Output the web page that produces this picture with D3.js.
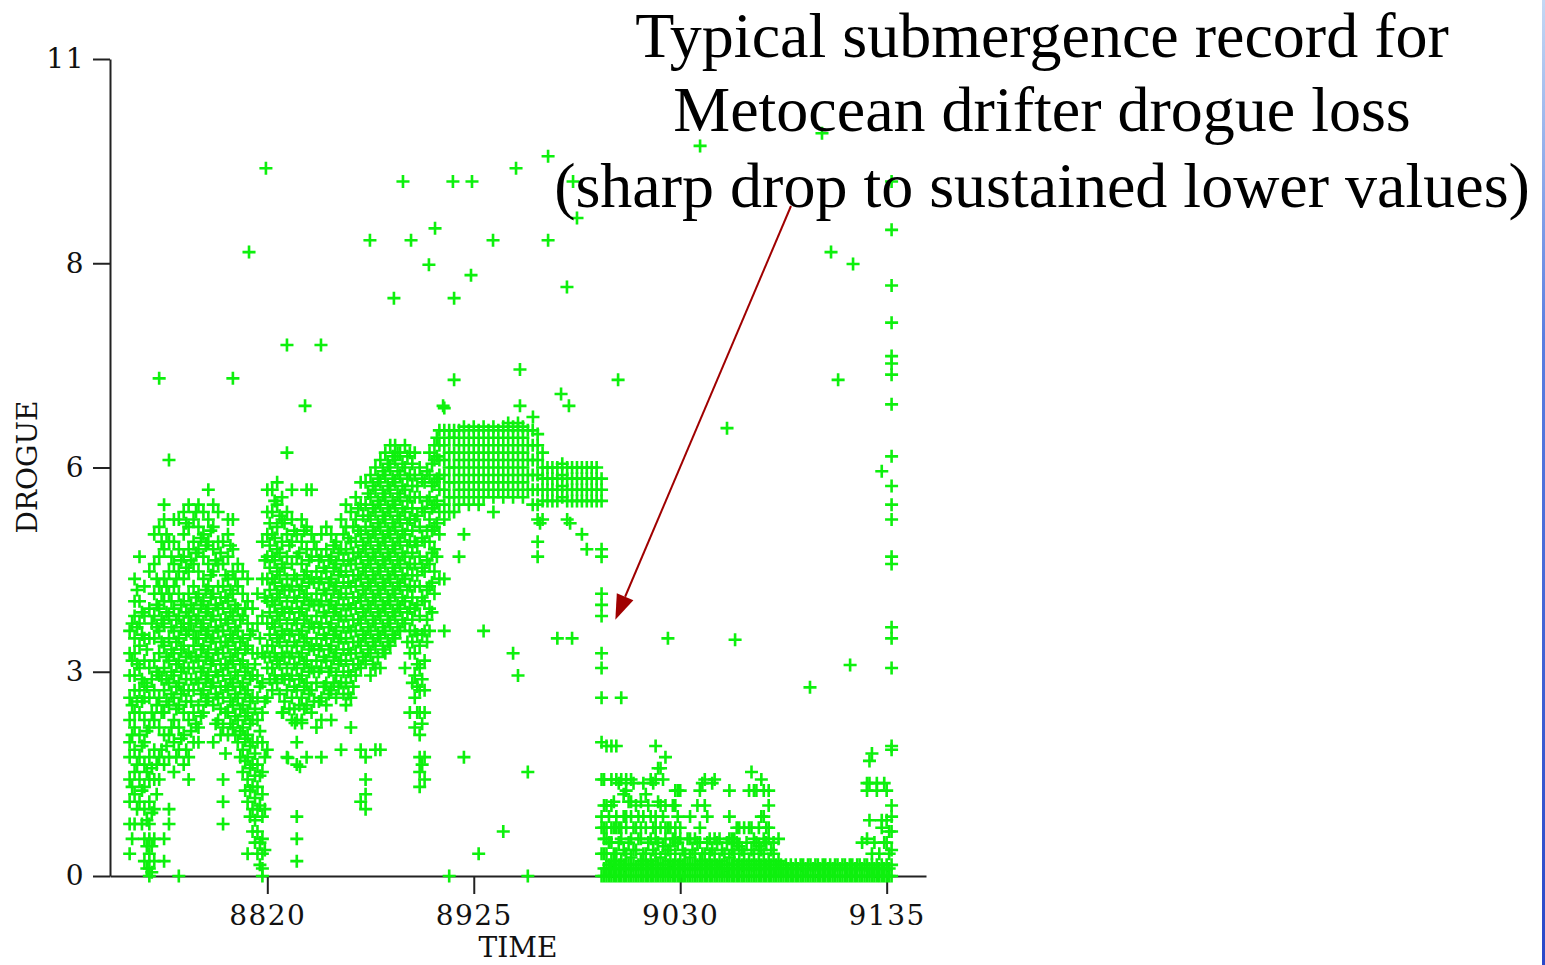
<!DOCTYPE html>
<html><head><meta charset="utf-8">
<script src="https://cdn.jsdelivr.net/npm/d3@7"></script>
<style>html,body{margin:0;padding:0;background:#fff;overflow:hidden}</style>
</head><body>
<svg id="chart" width="1545" height="965"></svg>
<script>
// ---------------- DATA (TIME, DROGUE) ----------------
const titleLines = ["Typical submergence record for", "Metocean drifter drogue loss", "(sharp drop to sustained lower values)"];
const xLabel = "TIME";
const yLabel = "DROGUE";
const xTicks = [8820, 8925, 9030, 9135];
const yTicks = [0, 2.75, 5.5, 8.25, 11];
const yTickLabels = ["0", "3", "6", "8", "11"];

// early oscillating section: [time, values at that time]
const earlyColumns = [
[8750,[0.3,0.7,1.0,1.3,1.6,1.8,2.1,2.4,2.7,3.0,3.3]],
[8751.25,[0.5,1.2,1.9,2.3,2.9,3.4]],
[8752.5,[0.7,1.1,1.4,1.7,2.0,2.2,2.5,2.7,3.0,3.2,3.5,3.7,4.0]],
[8753.75,[0.9,1.5,2.35,2.85,3.35,3.85]],
[8755,[1.0,1.3,1.6,1.9,2.2,2.5,2.8,3.1,3.4,3.7,4.3]],
[8756.25,[0.7,1.15,1.75,2.35,2.65,3.25,3.55]],
[8757.5,[0.2,0.5,0.9,1.2,1.5,1.8,2.1,2.4,2.6,2.9,3.2,3.5,3.9]],
[8758.75,[0.1,0.4,0.75,1.4,1.95,2.55,3.05]],
[8760,[0.0,0.1,0.3,0.5,0.7,1.0,1.3,1.6,2.0,2.4,2.8,3.2,3.6,4.1]],
[8761.25,[0.05,0.4,0.85,1.45,2.2,2.65,3.4]],
[8762.5,[0.2,0.5,0.9,1.3,1.7,2.1,2.5,2.9,3.2,3.5,3.8,4.2,4.6]],
[8763.75,[1.1,1.5,2.3,2.75,3.35,3.65,4.0]],
[8765,[1.3,1.6,2.0,2.4,2.7,3.0,3.3,3.6,3.9,4.3,4.7,6.7]],
[8766.25,[1.7,2.2,2.65,3.15,3.45,3.8,4.5]],
[8767.5,[0.2,0.5,1.5,1.9,2.2,2.5,2.8,3.1,3.4,3.7,4.0,4.4,4.8,5.0]],
[8768.75,[1.75,2.35,2.65,2.95,3.55,3.9,4.6]],
[8770,[0.7,0.9,1.6,1.9,2.3,2.6,2.9,3.2,3.5,3.8,4.1,4.5,5.6]],
[8771.25,[2.0,2.45,2.75,3.05,3.35,3.7,4.3]],
[8772.5,[1.4,1.8,2.1,2.4,2.7,3.0,3.3,3.6,3.9,4.2,4.5,4.8]],
[8773.75,[1.6,2.25,2.55,2.85,3.15,3.45,4.0]],
[8775,[0.0,1.7,2.0,2.3,2.6,2.9,3.2,3.5,3.8,4.1,4.4,4.8]],
[8776.25,[1.85,2.45,2.75,3.05,3.35,3.65,4.25]],
[8777.5,[1.5,1.9,2.2,2.5,2.8,3.1,3.4,3.7,4.0,4.3,4.6,4.9]],
[8778.75,[1.7,2.35,2.65,2.95,3.25,3.55,4.15,4.75]],
[8780,[1.3,1.6,2.1,2.5,2.8,3.0,3.3,3.5,3.8,4.1,4.4,4.7,5.0]],
[8781.25,[1.95,2.35,2.65,2.95,3.4,3.65,4.25]],
[8782.5,[1.8,2.2,2.5,2.8,3.1,3.3,3.6,3.9,4.2,4.5,4.8]],
[8783.75,[2.05,2.65,2.95,3.2,3.45,3.75,4.35,4.9]],
[8785,[1.8,2.0,2.3,2.6,2.9,3.2,3.5,3.8,4.1,4.4,4.7,5.0]],
[8786.25,[2.15,2.45,2.75,3.05,3.35,3.65,4.55]],
[8787.5,[2.2,2.5,2.8,3.1,3.4,3.7,4.0,4.3,4.6,4.9]],
[8788.75,[2.35,2.65,2.95,3.25,3.55,3.85,4.45]],
[8790,[2.4,2.7,3.0,3.3,3.6,3.9,4.2,4.5,4.8,5.2]],
[8791.25,[2.55,2.85,3.15,3.45,3.75,4.05,4.65]],
[8792.5,[1.8,2.3,2.6,2.9,3.2,3.5,3.8,4.1,4.4,4.7,5.0]],
[8793.75,[2.05,2.45,2.75,3.05,3.35,3.65,4.25]],
[8795,[2.1,2.4,2.7,3.0,3.3,3.6,3.9,4.2,4.5,4.9]],
[8796.25,[1.9,2.25,2.55,2.85,3.15,3.45,3.75,4.35]],
[8797.5,[0.7,1.0,1.3,2.0,2.4,2.7,3.0,3.3,3.6,3.9,4.2,4.5]],
[8798.75,[1.65,2.2,2.55,2.85,3.15,3.45,3.75,4.05]],
[8800,[1.9,2.2,2.5,2.8,3.1,3.4,3.7,4.0,4.3,4.6,4.8]],
[8801.25,[2.05,2.35,2.65,2.95,3.25,3.55,3.85,4.45]],
[8802.5,[2.0,2.3,2.6,2.9,3.2,3.5,3.8,4.1,4.4,4.8,6.7]],
[8803.75,[1.9,2.15,2.45,2.75,3.05,3.35,3.65,4.0]],
[8805,[1.8,2.1,2.4,2.7,3.0,3.3,3.6,3.9,4.2]],
[8806.25,[1.6,1.95,2.25,2.55,2.85,3.15,3.45]],
[8807.5,[1.4,1.7,2.0,2.3,2.6,2.9,3.2,3.5,3.8,4.1]],
[8808.75,[1.15,1.55,1.85,2.15,2.45,2.75,3.05,3.6]],
[8810,[0.3,1.0,1.3,1.6,1.9,2.2,2.5,2.8,3.1,3.4,3.7,4.0]],
[8811.25,[0.8,1.15,1.45,1.75,2.05,2.35,2.65,3.25]],
[8812.5,[0.6,0.9,1.2,1.5,1.8,2.1,2.4,2.7,3.0,3.3,3.6]],
[8813.75,[0.45,0.75,1.05,1.35,1.65,2.25,2.85]],
[8815,[0.3,0.6,0.9,1.2,1.5,1.8,2.1,2.4,2.7,3.0,3.4,3.8]],
[8816.25,[0.15,0.45,0.95,1.35,1.95,2.55,3.2]],
[8817.5,[0.0,0.1,0.3,0.5,0.8,1.1,1.4,1.8,2.2,2.6,3.0,3.5,4.0,4.5]],
[8818.75,[0.35,0.9,1.6,2.35,2.95,3.75,4.25]]
];

// rising section
const midColumns = [
[8820,[1.7,2.4,2.8,3.1,3.4,3.7,4.0,4.3,4.6,4.9,5.2]],
[8821.25,[2.65,2.95,3.25,3.55,3.85,4.15,4.45,4.75]],
[8822.5,[2.5,2.8,3.1,3.4,3.7,4.0,4.3,4.6,4.9,5.2]],
[8823.75,[2.7,3.0,3.35,3.65,3.95,4.25,4.55,5.05]],
[8825,[2.6,2.9,3.2,3.5,3.8,4.1,4.4,4.7,5.0,5.3]],
[8826.25,[2.45,2.85,3.15,3.45,3.75,4.05,4.35,4.85]],
[8827.5,[2.2,2.7,3.0,3.3,3.6,3.9,4.2,4.5,4.8,5.1]],
[8828.75,[2.35,2.65,2.95,3.25,3.55,3.85,4.15,4.75]],
[8830,[1.6,2.5,2.8,3.1,3.4,3.7,4.0,4.3,4.6,4.9,5.7]],
[8831.25,[2.25,2.65,2.95,3.25,3.55,3.85,4.45]],
[8832.5,[2.1,2.4,2.7,3.0,3.3,3.6,3.9,4.2,4.5,4.8,5.2]],
[8833.75,[2.25,2.55,2.85,3.15,3.45,3.75,4.05,4.65]],
[8835,[0.2,0.5,0.8,1.5,1.8,2.1,2.5,2.8,3.1,3.4,3.7,4.0,4.3,4.6]],
[8836.25,[2.3,2.65,2.95,3.25,3.55,3.85,4.35]],
[8837.5,[2.1,2.4,2.7,3.0,3.3,3.6,3.9,4.2,4.5,4.8]],
[8838.75,[2.25,2.55,2.85,3.15,3.45,3.75,4.05,4.65]],
[8840,[1.6,2.3,2.6,2.9,3.2,3.5,3.8,4.1,4.4,4.7,5.2]],
[8841.25,[2.45,2.75,3.05,3.35,3.65,3.95,4.25]],
[8842.5,[2.2,2.5,2.8,3.1,3.4,3.7,4.0,4.3,4.6,5.2]],
[8843.75,[2.35,2.75,3.05,3.35,3.65,3.95,4.5]],
[8845,[2.0,2.6,2.9,3.2,3.5,3.8,4.1,4.4]],
[8846.25,[2.35,2.75,3.05,3.35,3.65,3.95,4.25]],
[8847.5,[1.6,2.1,2.4,2.8,3.1,3.4,3.7,4.0,4.3,4.6]],
[8848.75,[2.55,2.95,3.25,3.55,3.85,4.15]],
[8850,[2.3,2.6,2.9,3.2,3.5,3.8,4.1,4.4,4.7]],
[8851.25,[2.45,2.75,3.05,3.35,3.65,3.95,4.25]],
[8852.5,[2.1,2.5,2.8,3.1,3.4,3.7,4.0,4.3,4.6]],
[8853.75,[2.6,2.95,3.25,3.55,3.85,4.15,4.45]],
[8855,[2.4,2.7,3.0,3.3,3.6,3.9,4.2,4.5]],
[8856.25,[2.55,2.85,3.15,3.45,3.75,4.05,4.35]],
[8857.5,[1.7,2.6,2.9,3.2,3.5,3.8,4.1,4.4,4.8]],
[8858.75,[2.45,2.75,3.05,3.35,3.65,3.95,4.25,4.6]],
[8860,[2.3,2.6,2.9,3.2,3.5,3.8,4.1,4.4,4.7,5.0]],
[8861.25,[2.45,2.75,3.05,3.35,3.65,3.95,4.25,4.55]],
[8862.5,[2.0,2.4,2.7,3.0,3.3,3.6,3.9,4.2,4.5,4.9]],
[8863.75,[2.55,2.85,3.15,3.45,3.75,4.05,4.35,4.7]],
[8865,[2.7,3.0,3.3,3.6,3.9,4.2,4.5,4.8,5.1]],
[8866.25,[2.85,3.15,3.45,3.75,4.05,4.35,4.65,4.95]],
[8867.5,[1.0,1.7,2.8,3.1,3.4,3.7,4.0,4.3,4.6,5.0,5.3]],
[8868.75,[2.95,3.25,3.55,3.85,4.15,4.45,4.85]],
[8870,[0.9,1.1,1.3,1.6,2.9,3.2,3.5,3.8,4.1,4.4,4.7,5.0,5.3]],
[8871.25,[3.05,3.35,3.65,3.95,4.25,4.55,4.85,5.15]],
[8872.5,[2.7,3.0,3.3,3.6,3.9,4.2,4.5,4.8,5.1,5.4]],
[8873.75,[2.85,3.15,3.45,3.75,4.05,4.35,4.65,4.95,5.25]],
[8875,[1.7,2.8,3.1,3.4,3.7,4.0,4.3,4.6,4.9,5.2,5.5]],
[8876.25,[2.95,3.25,3.55,3.85,4.15,4.45,4.75,5.05,5.35]],
[8877.5,[1.7,2.8,3.2,3.5,3.8,4.1,4.4,4.7,5.0,5.3,5.6]],
[8878.75,[3.05,3.35,3.65,3.95,4.25,4.55,4.85,5.15,5.45]],
[8880,[3.0,3.3,3.6,3.9,4.2,4.5,4.8,5.1,5.4,5.7]],
[8881.25,[3.15,3.45,3.75,4.05,4.35,4.65,4.95,5.25,5.55]],
[8882.5,[3.1,3.4,3.7,4.0,4.3,4.6,4.9,5.2,5.5,5.8]],
[8883.75,[3.25,3.55,3.85,4.15,4.45,4.75,5.05,5.35,5.65]],
[8885,[3.2,3.5,3.8,4.1,4.4,4.7,5.0,5.3,5.6,5.8]],
[8886.25,[3.35,3.65,3.95,4.25,4.55,4.85,5.15,5.45,5.7]],
[8887.5,[3.3,3.6,3.9,4.2,4.5,4.8,5.1,5.4,5.7]],
[8888.75,[3.45,3.75,4.05,4.35,4.65,4.95,5.25,5.55]],
[8890,[2.8,3.4,3.7,4.0,4.3,4.6,4.9,5.2,5.5,5.8]],
[8891.25,[3.15,3.55,3.85,4.15,4.45,4.75,5.05,5.35,5.65]],
[8892.5,[2.2,3.0,3.3,3.6,3.9,4.2,4.5,4.8,5.1,5.4,5.7]],
[8893.75,[2.6,3.15,3.45,3.75,4.05,4.35,4.65,4.95,5.25,5.55]],
[8895,[2.0,2.4,2.7,3.0,3.3,3.6,3.9,4.2,4.5,4.8,5.1,5.4,5.7]],
[8896.25,[2.2,2.55,2.85,3.25,3.65,4.05,4.45,4.85,5.25]],
[8897.5,[1.2,1.4,1.6,1.9,2.2,2.5,2.8,3.1,3.5,3.9,4.3,4.7,5.1,5.5]],
[8898.75,[1.5,2.05,2.65,3.25,3.75,4.15,4.55,4.95,5.35]],
[8900,[1.3,1.6,2.2,2.5,2.9,3.3,3.7,4.1,4.5,4.9,5.3]],
[8901.25,[3.15,3.45,3.85,4.25,4.65,5.05,5.45]],
[8902.5,[3.3,3.6,3.9,4.2,4.5,4.8,5.1,5.4,5.7]],
[8903.75,[3.55,3.95,4.35,4.65,4.95,5.25,5.55]],
[8905,[3.8,4.1,4.4,4.7,5.0,5.3,5.6,5.8]],
[8906.25,[4.3,4.75,5.05,5.35,5.65,5.9]]
];

// plateau before the drop
const plateauColumns = [
[8907.5,[4.0,4.6,4.9,5.2,5.4,5.6,5.8,6.0]],
[8910,[3.3,4.0,4.8,5.0,5.2,5.4,5.6,5.8,6.0,6.3]],
[8912.5,[0.0,4.9,5.1,5.3,5.5,5.7,5.9,6.0]],
[8915,[4.9,5.1,5.3,5.5,5.7,5.9,6.0]],
[8917.5,[4.3,5.0,5.2,5.4,5.6,5.8,6.0]],
[8920,[1.6,4.6,5.1,5.3,5.5,5.7,5.9,6.05]],
[8922.5,[5.0,5.2,5.4,5.6,5.8,6.0]],
[8925,[5.1,5.3,5.5,5.7,5.9,6.05]],
[8927.5,[0.3,5.0,5.2,5.4,5.6,5.8,6.0]],
[8930,[3.3,5.1,5.3,5.5,5.7,5.9,6.05]],
[8932.5,[5.2,5.4,5.6,5.8,6.0]],
[8935,[4.9,5.1,5.3,5.5,5.7,5.9,6.05]],
[8937.5,[5.2,5.4,5.6,5.8,6.0]],
[8940,[0.6,5.1,5.3,5.5,5.7,5.9,6.05]],
[8942.5,[5.2,5.4,5.6,5.8,6.0,6.1]],
[8945,[3.0,5.1,5.3,5.5,5.7,5.9,6.05]],
[8947.5,[2.7,5.2,5.4,5.6,5.8,6.0,6.1]],
[8950,[5.1,5.3,5.5,5.7,5.9,6.05]],
[8952.5,[0.0,1.4,5.2,5.4,5.6,5.8,6.0]],
[8955,[5.0,5.2,5.4,5.6,5.8,6.0]],
[8957.5,[4.3,4.5,4.8,5.0,5.2,5.4,5.6,5.8,5.95]],
[8960,[4.8,5.05,5.2,5.35,5.5,5.7]],
[8962.5,[5.05,5.2,5.35,5.5]],
[8965,[5.05,5.2,5.35,5.5]],
[8967.5,[3.2,5.05,5.2,5.35,5.5]],
[8970,[5.1,5.25,5.4,5.55]],
[8972.5,[4.8,5.05,5.2,5.35,5.5]],
[8975,[3.2,5.05,5.2,5.35,5.5]],
[8977.5,[5.05,5.2,5.35,5.5]],
[8980,[4.6,5.05,5.2,5.35,5.5]],
[8982.5,[4.4,5.05,5.2,5.35,5.5]],
[8985,[5.05,5.2,5.35,5.5]],
[8987.5,[5.05,5.2,5.35,5.5]],
[8990,[0.0,0.3,0.65,0.8,1.3,1.8,2.4,2.8,3.0,3.5,3.65,3.8,4.3,4.4,5.05,5.2,5.35]]
];

// after drogue loss
const lossColumns = [
[8991.25,[0,0.1,0.3,0.5,0.65,0.95,1.3]],
[8992.5,[0,0.1,0.3,0.5,0.65,0.95,1.75]],
[8993.75,[0,0.15,0.45,0.8]],
[8995,[0,0.1,0.2,0.45,0.65,0.95,1.3,1.75]],
[8996.25,[0,0.15,0.3,0.65,1.0]],
[8997.5,[0,0.1,0.3,0.65,0.8,1.3,1.75]],
[8998.75,[0,0.15,0.45,0.65,1.25]],
[9000,[0,0.1,0.2,0.5,0.65,1.3,2.4]],
[9001.25,[0,0.15,0.35,0.8,1.1]],
[9002.5,[0,0.1,0.3,0.65,0.8,1.15,1.3]],
[9003.75,[0,0.15,0.45,1.0]],
[9005,[0,0.1,0.25,0.5,0.8,1.0,1.3]],
[9006.25,[0,0.15,0.35,0.65,1.25]],
[9007.5,[0,0.1,0.35,0.65,0.95]],
[9008.75,[0,0.15,0.5,0.8]],
[9010,[0,0.1,0.2,0.5,0.65,1.0]],
[9011.25,[0,0.15,0.3,0.8,1.25]],
[9012.5,[0,0.1,0.3,0.65,1.1]],
[9013.75,[0,0.15,0.45,0.95]],
[9015,[0,0.1,0.2,0.5,0.8,1.3]],
[9016.25,[0,0.15,0.35,0.65,1.25]],
[9017.5,[0,0.1,0.3,0.5,0.65,0.8,1.3,1.75]],
[9018.75,[0,0.15,0.45,1.0,1.45]],
[9020,[0,0.1,0.25,0.65,0.95,1.45]],
[9021.25,[0,0.15,0.4,0.8,1.3]],
[9022.5,[0,0.1,0.3,0.5,0.65,0.95,1.6]],
[9023.75,[0,0.15,0.35,0.65,3.2]],
[9025,[0,0.1,0.2,0.4,0.65]],
[9026.25,[0,0.15,0.5,0.95]],
[9027.5,[0,0.1,0.3,0.5,0.65,0.95,1.15]],
[9028.75,[0,0.15,0.45,0.8,1.15]],
[9030,[0,0.1,0.2,0.5,0.65,1.15]],
[9031.25,[0,0.15,0.35]],
[9032.5,[0,0.1,0.3]],
[9033.75,[0,0.15,0.5]],
[9035,[0,0.1,0.25,0.5,0.8]],
[9036.25,[0,0.15,0.35]],
[9037.5,[0,0.1,0.3,0.5]],
[9038.75,[0,0.15,0.45,0.95]],
[9040,[0,0.1,0.2,0.45,0.65,1.15]],
[9041.25,[0,0.15,0.3,1.25]],
[9042.5,[0,0.1,0.3,0.95,1.3]],
[9043.75,[0,0.15,0.45,0.8]],
[9045,[0,0.1,0.2,0.3,0.5]],
[9046.25,[0,0.15,0.35,1.25]],
[9047.5,[0,0.1,0.3,0.5,1.3]],
[9048.75,[0,0.15,0.45]],
[9050,[0,0.1,0.2,0.5]],
[9051.25,[0,0.15,0.35]],
[9052.5,[0,0.1,0.3]],
[9053.75,[0,0.15,0.45]],
[9055,[0,0.1,0.25,0.5,0.8,1.15]],
[9056.25,[0,0.15,0.35,0.5]],
[9057.5,[0,0.1,0.3,0.5]],
[9058.75,[0,0.15,0.45,0.65]],
[9060,[0,0.1,0.2,0.4,0.65]],
[9061.25,[0,0.15,0.35]],
[9062.5,[0,0.1,0.3,0.65]],
[9063.75,[0,0.15,0.45]],
[9065,[0,0.1,0.2,0.65,1.15]],
[9066.25,[0,0.15,0.35,0.65,1.4]],
[9067.5,[0,0.1,0.3,0.5,1.15]],
[9068.75,[0,0.15,0.45,1.15]],
[9070,[0,0.1,0.2,0.4,0.65]],
[9071.25,[0,0.15,0.35,0.8,1.3]],
[9072.5,[0,0.1,0.3,0.5,0.8,1.15]],
[9073.75,[0,0.15,0.45,0.65]],
[9075,[0,0.1,0.2,0.5,0.65,0.95,1.15]],
[9076.25,[0,0.15,0.35]],
[9077.5,[0,0.1,0.3,0.45]],
[9078.75,[0,0.15]],
[9080,[0,0.1,0.2,0.5]],
[9081.25,[0,0.15]],
[9082.5,[0,0.1]],
[9083.75,[0,0.15]],
[9085,[0,0.1]],
[9086.25,[0,0.15]],
[9087.5,[0,0.1]],
[9088.75,[0,0.15]],
[9090,[0,0.1]],
[9091.25,[0,0.15]],
[9092.5,[0,0.15]],
[9093.75,[0,0.1]],
[9095,[0,0.15]],
[9096.25,[0,0.15]],
[9097.5,[0,0.1]],
[9098.75,[0,0.15]],
[9100,[0,0.15]],
[9101.25,[0,0.1]],
[9102.5,[0,0.15]],
[9103.75,[0,0.15]],
[9105,[0,0.1]],
[9106.25,[0,0.15]],
[9107.5,[0,0.1]],
[9108.75,[0,0.15]],
[9110,[0,0.15]],
[9111.25,[0,0.1]],
[9112.5,[0,0.15]],
[9113.75,[0,0.15]],
[9115,[0,0.1]],
[9116.25,[0,0.15]],
[9117.5,[0,0.15]],
[9118.75,[0,0.1]],
[9120,[0,0.15]],
[9121.25,[0,0.15]],
[9122.5,[0,0.1,0.45]],
[9123.75,[0,0.15]],
[9125,[0,0.15,0.5,1.15,1.25]],
[9126.25,[0,0.1,0.75,1.25,1.55]],
[9127.5,[0,0.15,0.3,1.65]],
[9128.75,[0,0.1,0.45]],
[9130,[0,0.15,1.15,1.25]],
[9131.25,[0,0.1,0.3]],
[9132.5,[0,0.15,0.65,0.75,5.45]],
[9133.75,[0,0.1,0.45,1.25]],
[9135,[0,0.15,0.45,0.75,1.15]],
[9136.25,[0,0.1,0.3,0.6]],
[9137.5,[0,0.15,0.35,0.6,0.8,0.95,1.7,1.75,2.8,3.2,3.35,4.2,4.3,4.8,5.0,5.25,5.65,6.35,6.75,6.9,7.0,7.45,7.95,8.7,9.35]]
];

// isolated spikes: [time, value]
const outliers = [
[8819.3,9.53],[8810.7,8.40],[8830,7.15],[8847.3,7.15],[8839.2,6.33],[8872.2,8.56],[8884.4,7.78],
[8889,9.35],[8893.1,8.56],[8902.2,8.23],[8905.3,8.72],[8909.4,6.33],[8915,6.68],[8914.4,9.35],
[8924.1,9.35],[8915,7.78],[8923.6,8.09],[8934.8,8.56],[8946.5,9.53],[8948.5,6.82],[8948.5,6.33],
[8955.1,6.18],[8962.8,9.69],[8962.8,8.56],[8969.4,6.49],[8972.4,7.93],[8973.4,6.33],[8975.5,9.35],
[8977.5,8.86],[8998.4,6.68],[9040.1,9.83],[9053.8,6.03],[9102.1,10.0],[9106.7,8.40],[9117.9,8.24],
[9110.3,6.68],[9116.4,2.84],[9096,2.54],[9057.9,3.18],
[8828,2.2],[8834.1,2.06],[8837.6,2.06],[8830.5,1.59],[8836.6,1.47],[8958.7,4.75],[8974,4.75]
];

// ---------------- DRAWING ----------------
const svg = d3.select("#chart");
const x = d3.scaleLinear().domain([8740, 9155]).range([110, 926]);
const y = d3.scaleLinear().domain([0, 11]).range([876, 59]);

const defs = svg.append("defs");
const grad = defs.append("linearGradient").attr("id", "edge").attr("x1", 0).attr("y1", 0).attr("x2", 0).attr("y2", 1);
grad.append("stop").attr("offset", "0%").attr("stop-color", "#c4d8f4");
grad.append("stop").attr("offset", "35%").attr("stop-color", "#5a7ee0");
grad.append("stop").attr("offset", "100%").attr("stop-color", "#2a48c8");
defs.append("filter").attr("id", "soft").append("feGaussianBlur").attr("stdDeviation", 0.4);

svg.append("rect").attr("x", 1542).attr("y", 0).attr("width", 3).attr("height", 965).attr("fill", "url(#edge)");

const points = [];
[earlyColumns, midColumns, plateauColumns, lossColumns].forEach(cols =>
  cols.forEach(([t, vs]) => vs.forEach(v => points.push([t, v]))));
outliers.forEach(p => points.push(p));

// axes
const axisFont = "'DejaVu Serif', serif";
const gy = svg.append("g").attr("transform", "translate(110,0)")
  .call(d3.axisLeft(y).tickValues(yTicks).tickFormat((d, i) => yTickLabels[i]).tickSize(17).tickSizeOuter(0).tickPadding(8));
const gx = svg.append("g").attr("transform", "translate(0,876)")
  .call(d3.axisBottom(x).tickValues(xTicks).tickFormat(d3.format("d")).tickSize(18).tickSizeOuter(0).tickPadding(11));
[gx, gy].forEach(g => {
  g.select(".domain").attr("stroke", "#222").attr("stroke-width", 2);
  g.selectAll(".tick line").attr("stroke", "#222").attr("stroke-width", 2);
  g.selectAll(".tick text").attr("fill", "#111").style("font-family", axisFont).style("font-size", "28px").style("letter-spacing", "1.5px");
});

// markers
svg.append("g").attr("filter", "url(#soft)")
  .selectAll("path").data(points).join("path")
  .attr("transform", d => `translate(${x(d[0])},${y(d[1])})`)
  .attr("d", "M-6.5,0H6.5M0,-6.5V6.5")
  .attr("stroke", "#0af00a").attr("stroke-width", 2.6).attr("fill", "none");

// axis titles
svg.append("text").attr("x", 518).attr("y", 957).attr("text-anchor", "middle")
  .style("font-family", axisFont).style("font-size", "28px").attr("fill", "#111").text(xLabel);
svg.append("text").attr("transform", "translate(37,467) rotate(-90)").attr("text-anchor", "middle")
  .style("font-family", axisFont).style("font-size", "28px").attr("fill", "#111").text(yLabel);

// title
const baselines = [57, 131, 207];
titleLines.forEach((s, i) => svg.append("text").attr("x", 1042).attr("y", baselines[i]).attr("text-anchor", "middle")
  .style("font-family", "'Liberation Serif', 'Times New Roman', serif").style("font-size", "64px").attr("fill", "#000").text(s));

// arrow annotation
const start = [791, 206];
const tip = [x(8997), y(3.45)];
const dx = tip[0] - start[0], dy = tip[1] - start[1], L = Math.hypot(dx, dy);
const ux = dx / L, uy = dy / L, hl = 25, hw = 9;
const bx = tip[0] - hl * ux, by = tip[1] - hl * uy;
svg.append("line").attr("x1", start[0]).attr("y1", start[1]).attr("x2", bx).attr("y2", by)
  .attr("stroke", "#a00000").attr("stroke-width", 2);
svg.append("polygon").attr("points", [[tip[0], tip[1]], [bx - hw * uy, by + hw * ux], [bx + hw * uy, by - hw * ux]].map(p => p.join(",")).join(" "))
  .attr("fill", "#a00000");
</script>
</body></html>
